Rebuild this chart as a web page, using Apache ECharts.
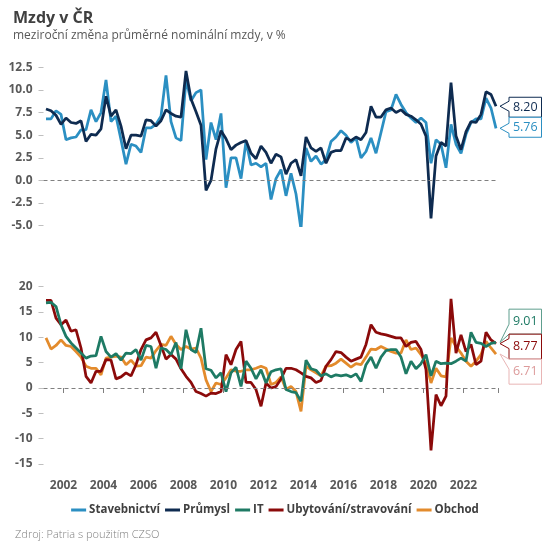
<!DOCTYPE html>
<html>
<head>
<meta charset="utf-8">
<script src="https://cdn.jsdelivr.net/npm/echarts@6/dist/echarts.min.js"></script>
<style>
html,body{margin:0;padding:0;background:#fff;}
#c{width:550px;height:550px;}
</style>
</head>
<body>
<div id="c"></div>
<script>
// Quarters 2001 Q1 .. 2023 Q3
const quarters = [];
for (let y = 2001; y <= 2023; y++) {
  for (let q = 1; q <= 4; q++) {
    if (y === 2023 && q > 3) break;
    quarters.push(y + ' Q' + q);
  }
}
const yearTicks = ['2002','2004','2006','2008','2010','2012','2014','2016','2018','2020','2022'];

const stavebnictvi = [6.8,6.8,7.7,7.3,4.5,4.7,4.8,5.6,5.6,7.8,6.5,7.5,11.1,6.5,7.1,4.5,1.8,4.0,3.8,3.1,
  5.8,5.8,6.2,7.1,11.6,6.5,4.7,4.4,11.1,8.8,9.7,10.0,2.3,6.4,4.5,7.4,-0.8,2.5,2.5,0.2,
  4.3,1.7,1.9,1.5,1.9,-2.1,0.2,1.2,-1.7,0.8,-1.5,-5.4,3.6,2.1,2.7,1.8,2.3,4.3,4.8,5.5,
  5.0,4.2,4.7,2.5,3.2,4.7,3.0,5.3,7.6,7.8,9.5,8.4,7.5,6.9,6.4,6.9,6.4,1.9,4.5,4.0,
  1.4,6.2,4.0,3.0,5.1,6.4,6.8,6.8,9.1,8.0,5.76];
const prumysl = [7.9,7.7,7.2,6.2,6.9,6.4,6.3,6.6,4.3,5.1,5.0,5.7,9.3,7.1,7.8,6.0,3.5,5.0,5.0,4.9,
  6.7,6.6,6.0,6.6,7.8,7.4,7.1,7.0,12.1,9.0,7.6,6.1,-1.1,0.0,3.5,5.5,4.6,3.4,3.9,4.2,
  4.4,3.0,2.4,3.8,3.1,1.9,2.9,2.6,0.7,1.9,2.3,0.5,4.8,3.6,3.2,3.6,1.9,3.1,3.3,3.3,
  4.7,4.4,4.8,4.5,5.3,8.2,7.0,7.0,7.8,8.0,7.5,7.8,7.3,7.1,6.7,6.2,4.9,-4.2,2.7,4.2,
  3.8,10.8,4.9,3.4,5.4,6.5,6.4,7.3,9.8,9.5,8.20];
const it = [16.8,16.9,16.1,12.5,10.2,8.9,7.9,6.9,5.9,6.3,6.4,10.2,7.2,6.1,6.8,5.5,6.9,6.8,7.6,5.5,
  8.4,8.2,3.9,7.9,7.6,6.6,9.0,3.8,11.5,7.6,7.0,11.8,3.8,3.5,2.0,3.0,-0.7,3.0,4.1,0.3,
  5.3,3.9,1.8,3.6,1.0,3.2,3.6,3.8,-0.3,-0.7,-0.9,-2.6,5.5,3.8,3.5,2.4,2.8,2.2,2.6,2.4,
  2.6,2.2,2.8,1.3,4.6,6.1,3.9,6.1,7.4,7.6,7.6,6.1,2.8,5.3,3.8,4.8,6.6,2.4,5.3,4.8,
  4.9,4.8,5.3,5.9,5.3,11.0,9.0,8.8,8.2,8.8,9.01];
const ubytovani = [17.3,17.3,13.8,12.5,13.4,11.2,11.5,7.9,2.3,1.0,3.3,3.3,5.6,5.5,1.8,2.2,3.0,2.4,4.6,7.6,
  9.5,9.9,11.0,8.4,5.7,6.6,5.7,3.8,2.3,1.1,-0.7,-1.1,-1.6,-1.0,-1.1,-0.7,6.6,4.6,7.6,9.2,
  1.1,1.1,-0.3,-3.6,1.0,0.0,0.3,1.8,3.9,3.9,3.6,3.0,2.3,2.0,1.1,1.5,4.3,5.6,7.2,7.0,
  6.1,5.3,5.7,6.1,8.6,12.5,11.0,10.7,10.5,10.2,9.9,9.9,8.2,9.0,9.2,7.6,3.6,-12.3,-1.3,-3.5,
  -1.6,17.6,6.9,10.5,7.2,8.6,4.6,5.3,11.0,9.5,8.77];
const obchod = [9.9,7.7,8.4,9.5,8.4,8.2,7.2,6.1,4.3,3.9,3.9,2.6,5.9,6.1,6.3,6.1,4.6,5.5,4.3,4.4,
  6.1,5.9,7.4,8.6,8.4,10.2,8.6,7.6,8.2,7.7,7.9,5.9,1.6,-0.7,1.0,0.7,2.0,3.6,3.3,3.3,
  3.6,3.6,3.9,4.3,3.9,0.7,1.1,2.2,-0.3,0.3,-0.7,-4.6,4.3,3.6,3.0,2.4,4.3,4.4,4.9,5.7,
  4.9,4.1,4.8,4.6,6.1,7.7,7.6,8.2,7.7,7.2,6.9,6.9,9.5,7.6,7.9,6.6,4.9,1.0,3.9,2.4,
  2.2,9.9,8.2,6.9,5.3,4.3,5.3,6.6,9.2,7.9,6.71];

const topTicks = [-5, 12.5, 2.5];
const bottomTicks = [-15, 20, 5];

const FONT = '"Open Sans", "Noto Sans", sans-serif';
const C = {
  stav: '#2b8fc2',
  prum: '#0e2b50',
  it: '#1e7a64',
  uby: '#8b0a0a',
  obch: '#e38b2c'
};

const isTick = (idx, val) => {
  const v = String(val);
  return v.endsWith('Q1') && yearTicks.indexOf(v.slice(0, 4)) >= 0;
};

const zeroLine = {
  silent: true, symbol: 'none', label: { show: false },
  lineStyle: { type: [4, 3], color: '#808080', width: 1 },
  data: [{ yAxis: 0 }]
};

function yAxis(gi, ticks, fmt) {
  return {
    type: 'value', gridIndex: gi, min: ticks[0], max: ticks[1], interval: ticks[2],
    axisLine: { show: false }, splitLine: { show: false },
    axisTick: { show: true, length: 5, lineStyle: { color: '#bfbfbf' } },
    axisLabel: { margin: 11, color: '#595959', fontWeight: 'bold', fontSize: 12, fontFamily: FONT, formatter: fmt }
  };
}

function line(name, data, color, xi) {
  return {
    name, type: 'line', data, xAxisIndex: xi, yAxisIndex: xi,
    showSymbol: false, symbol: 'none', color,
    lineStyle: { width: 2.75, color }, z: 3
  };
}

const chart = echarts.init(document.getElementById('c'), null, { renderer: 'canvas' });
const option = {
  animation: false,
  backgroundColor: '#fff',
  title: [
    { text: 'Mzdy v ČR', left: 8, top: 5, textStyle: { fontFamily: FONT, fontSize: 16, fontWeight: 'bold', color: '#404040' } },
    { text: 'meziroční změna průměrné nominální mzdy, v %', left: 8, top: 25, textStyle: { fontFamily: FONT, fontSize: 12, fontWeight: 'normal', color: '#595959' } },
    { text: 'Zdroj: Patria s použitím CZSO', left: 10, top: 524, textStyle: { fontFamily: FONT, fontSize: 11, fontWeight: 300, color: '#7f7f7f' } }
  ],
  legend: {
    data: ['Stavebnictví', 'Průmysl', 'IT', 'Ubytování/stravování', 'Obchod'],
    left: 'center', top: 499, icon: 'rect', itemWidth: 15, itemHeight: 3, itemGap: 5,
    textStyle: { fontFamily: FONT, fontSize: 11.5, fontWeight: 'bold', color: '#404040', padding: [0, 0, 0, -2] }
  },
  grid: [
    { left: 43.5, right: 51.5, top: 67.3, height: 158.4 },
    { left: 43.5, right: 51.5, top: 286.7, height: 177.3 }
  ],
  xAxis: [
    { type: 'category', gridIndex: 0, data: quarters, boundaryGap: true, show: false },
    { type: 'category', gridIndex: 1, data: quarters, boundaryGap: true, offset: 9,
      axisLine: { show: false },
      axisTick: { show: true, length: 5, interval: isTick, lineStyle: { color: '#7f7f7f' } },
      axisLabel: { interval: isTick, margin: 7, color: '#595959', fontWeight: 'bold', fontSize: 12, fontFamily: FONT,
        padding: [0, 5, 0, 0], formatter: v => v.slice(0, 4) }
    }
  ],
  yAxis: [
    yAxis(0, topTicks, v => v.toFixed(1)),
    yAxis(1, bottomTicks, v => String(v))
  ],
  series: [
    Object.assign(line('Stavebnictví', stavebnictvi, C.stav, 0), { markLine: zeroLine }),
    line('Průmysl', prumysl, C.prum, 0),
    Object.assign(line('Obchod', obchod, C.obch, 1), { markLine: zeroLine }),
    line('Ubytování/stravování', ubytovani, C.uby, 1),
    line('IT', it, C.it, 1)
  ]
};
chart.setOption(option);

// callouts at line ends
const last = quarters.length - 1;
function callouts(gi, items, h) {
  const pts = items.map(it => {
    const p = chart.convertToPixel({ xAxisIndex: gi, yAxisIndex: gi }, [last, it.value]);
    return Object.assign({}, it, { px: p[0], py: p[1] });
  }).sort((a, b) => a.py - b.py);
  const mean = pts.reduce((s, p) => s + p.py, 0) / pts.length;
  let top = mean - pts.length * h / 2;
  const els = [];
  pts.forEach((p, k) => {
    const T = top + k * h, B = T + h;
    const L = p.px + 13, R = L + 32.5;
    const c = Math.min(Math.max(p.py, T + 5), B - 5);
    els.push({
      type: 'polygon', z: 100,
      shape: { points: [[L, T], [R, T], [R, B], [L, B], [L, c + 5], [p.px + 4, p.py], [L, c - 5]] },
      style: { fill: '#fff', stroke: p.border, lineWidth: 1 }
    });
    els.push({
      type: 'text', z: 101,
      style: { text: p.label, x: (L + R) / 2, y: (T + B) / 2, align: 'center', verticalAlign: 'middle',
        fill: p.textColor, font: '12.5px ' + FONT }
    });
  });
  return els;
}
const g = [].concat(
  callouts(0, [
    { value: prumysl[last], label: prumysl[last].toFixed(2), border: C.prum, textColor: C.prum },
    { value: stavebnictvi[last], label: stavebnictvi[last].toFixed(2), border: C.stav, textColor: C.stav }
  ], 20),
  callouts(1, [
    { value: it[last], label: it[last].toFixed(2), border: '#5e9e8e', textColor: C.it },
    { value: ubytovani[last], label: ubytovani[last].toFixed(2), border: C.uby, textColor: C.uby },
    { value: obchod[last], label: obchod[last].toFixed(2), border: '#e8b5b5', textColor: '#dc9a9a' }
  ], 25)
);
chart.setOption({ graphic: g });
</script>
</body>
</html>
